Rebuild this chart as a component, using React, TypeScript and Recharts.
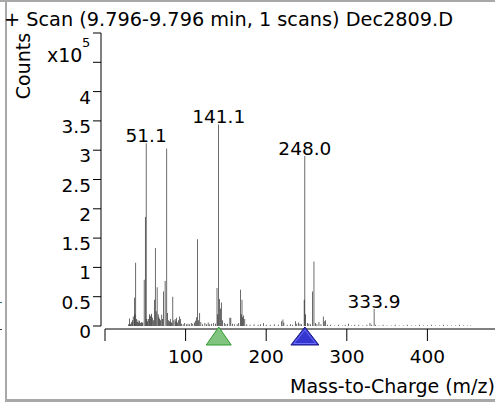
import { Bar, ComposedChart, LabelList, ReferenceDot, XAxis, YAxis } from "recharts";

// m/z of each line in the scan
const mz = [
  29, 30.2, 31, 32, 33, 34, 35, 36.4, 37.2, 38.2, 39, 40, 41, 42, 43, 44, 45, 46, 47, 48.6,
  50, 51.1, 52, 53, 54, 55, 56, 57, 58, 59, 60, 61.2, 62.4, 63.5, 64.7, 66, 67, 68, 69, 70.5,
  71.5, 72.6, 74.6, 76.7, 77.8, 79, 80, 81, 82, 83, 84.2, 85.5, 87, 88, 89, 90, 91, 92.5, 93.5, 95,
  97, 99, 101, 103, 105, 107, 109, 111, 112.5, 113.5, 114.8, 116, 117.6, 119, 121, 124, 126, 128, 130, 132,
  135, 137, 139, 140, 141.1, 142.3, 143.3, 144.3, 146, 148, 150, 152, 155, 156.2, 158, 161, 164, 166, 167.9, 169,
  170, 171, 172, 173.5, 176, 180, 185, 190, 193, 196.9, 200, 205, 210, 215, 219, 220.8, 222, 226, 230, 233,
  236.3, 238, 240.4, 242, 244, 247.1, 248, 249, 251, 253, 255, 257.3, 259.3, 261, 263, 265.5, 268, 270.8, 272, 273.8,
  276, 280, 285, 290, 295, 298, 302, 306, 310, 315, 320, 325, 328.8, 331, 333.9, 336, 340, 345, 350, 355,
  360, 365, 370, 375, 380, 385, 390, 395, 400, 405, 410, 415, 420, 425, 430, 435, 440, 445, 450, 454,
];

// counts, x10^5
const counts = [
  0.03, 0.13, 0.02, 0.04, 0.07, 0.1, 0.16, 0.48, 0.2, 1.08, 0.12, 0.07, 0.1, 0.06, 0.09, 0.05, 0.07, 0.05, 0.06, 0.79,
  1.86, 3.12, 0.12, 0.08, 0.12, 0.2, 0.16, 0.18, 0.21, 0.14, 0.1, 0.45, 1.33, 0.25, 0.66, 0.2, 0.15, 0.12, 0.1, 0.19,
  0.12, 0.59, 0.77, 3.03, 0.22, 0.1, 0.08, 0.12, 0.07, 0.05, 0.5, 0.1, 0.12, 0.08, 0.14, 0.06, 0.1, 0.16, 0.12, 0.04,
  0.03, 0.05, 0.03, 0.04, 0.03, 0.05, 0.04, 0.06, 0.09, 0.15, 1.48, 0.1, 0.22, 0.07, 0.03, 0.05, 0.03, 0.06, 0.03, 0.04,
  0.05, 0.04, 0.65, 0.2, 3.44, 0.46, 0.3, 0.4, 0.1, 0.05, 0.03, 0.04, 0.14, 0.14, 0.04, 0.03, 0.03, 0.05, 0.62, 0.2,
  0.45, 0.15, 0.18, 0.12, 0.03, 0.02, 0.03, 0.02, 0.03, 0.05, 0.02, 0.02, 0.03, 0.02, 0.08, 0.11, 0.06, 0.02, 0.03, 0.02,
  0.08, 0.04, 0.06, 0.04, 0.03, 0.45, 2.9, 0.2, 0.05, 0.04, 0.03, 0.59, 1.1, 0.05, 0.03, 0.07, 0.03, 0.16, 0.08, 0.1,
  0.02, 0.02, 0.01, 0.02, 0.01, 0.02, 0.04, 0.01, 0.02, 0.02, 0.01, 0.02, 0.05, 0.02, 0.29, 0.02, 0.01, 0.02, 0.01, 0.01,
  0.02, 0.01, 0.01, 0.02, 0.01, 0.01, 0.02, 0.01, 0.01, 0.02, 0.01, 0.01, 0.02, 0.01, 0.01, 0.01, 0.02, 0.01, 0.01, 0.01,
];

const labelMz = [51.1, 141.1, 248, 333.9];
const labelText = ["51.1", "141.1", "248.0", "333.9"];

const markerMz = [141.1, 248];

const yTicks = [0, 0.5, 1, 1.5, 2, 2.5, 3, 3.5, 4, 4.5, 5];
const yTickLabels = ["0", "0.5", "1", "1.5", "2", "2.5", "3", "3.5", "4", "", ""];
const xTicks = [0, 100, 200, 300, 400, 500];
const xTickLabels = ["", "100", "200", "300", "400", ""];

const data = mz.map((m, i) => {
  const k = labelMz.indexOf(m);
  return { mz: m, counts: counts[i], label: k >= 0 ? labelText[k] : undefined };
});

const FONT = '"DejaVu Sans", Verdana, sans-serif';
const NUM = 18.5;

function YTick(props: any) {
  const { x, y, payload } = props;
  const label = yTickLabels[yTicks.indexOf(payload.value)];
  return (
    <text x={x - 4} y={y + 12} textAnchor="end" fontSize={NUM} fontFamily={FONT} fill="#000">
      {label}
    </text>
  );
}

function XTick(props: any) {
  const { x, y, payload } = props;
  const label = xTickLabels[xTicks.indexOf(payload.value)];
  return (
    <text x={x} y={y + 23} textAnchor="middle" fontSize={NUM} fontFamily={FONT} fill="#000">
      {label}
    </text>
  );
}

function YTitle(props: any) {
  const vb = props.viewBox;
  const cx = vb.x + 30;
  const cy = vb.y + 33;
  return (
    <g fontFamily={FONT} fill="#000">
      <text x={cx} y={cy} textAnchor="middle" fontSize={19} transform={`rotate(-90 ${cx} ${cy})`}>
        Counts
      </text>
      <text x={vb.x + 47} y={vb.y + 29} fontSize={19}>
        x10
      </text>
      <text x={vb.x + 82} y={vb.y + 14} fontSize={13}>
        5
      </text>
    </g>
  );
}

function XTitle(props: any) {
  const vb = props.viewBox;
  return (
    <text x={vb.x + 185} y={vb.y + 67} fontSize={19} fontFamily={FONT} fill="#000">
      Mass-to-Charge (m/z)
    </text>
  );
}

function PeakLabel(props: any) {
  const { x, y, width, value } = props;
  if (!value) return null;
  return (
    <text x={x + width / 2} y={y - 1} textAnchor="middle" fontSize={NUM} fontFamily={FONT} fill="#000">
      {value}
    </text>
  );
}

function GreenMarker(props: any) {
  const { cx, cy } = props;
  return (
    <polygon
      points={`${cx},${cy + 1} ${cx - 12.5},${cy + 19} ${cx + 12.5},${cy + 19}`}
      fill="#80c480"
      stroke="#2f9a2f"
      strokeWidth={1}
    />
  );
}

function BlueMarker(props: any) {
  const { cx, cy } = props;
  return (
    <g>
      <polygon
        points={`${cx},${cy + 1} ${cx - 14},${cy + 19} ${cx + 14},${cy + 19}`}
        fill="#3535cf"
        stroke="#1a1a80"
        strokeWidth={1}
      />
      <polygon
        points={`${cx},${cy + 4} ${cx - 11},${cy + 17.5} ${cx + 11},${cy + 17.5}`}
        fill="none"
        stroke="#7070ff"
        strokeWidth={1}
      />
    </g>
  );
}

export default function App() {
  return (
    <div
      style={{
        position: "absolute",
        left: 0,
        top: 0,
        width: 495,
        height: 402,
        overflow: "hidden",
        background: "#fff",
        fontFamily: FONT,
      }}
    >
      <div style={{ position: "absolute", left: 0, top: 0, width: 495, height: 2, background: "#a8a8a8" }} />
      <div style={{ position: "absolute", left: 5, top: 0, width: 2, height: 402, background: "#a8a8a8" }} />
      <div style={{ position: "absolute", left: 5, top: 399, width: 490, height: 3, background: "#a8a8a8" }} />
      <div style={{ position: "absolute", left: 0, top: 302, width: 2, height: 1, background: "#2a7a8a" }} />
      <div style={{ position: "absolute", left: 0, top: 329, width: 2, height: 1, background: "#333" }} />

      <svg width={495} height={40} style={{ position: "absolute", left: 0, top: 0 }}>
        <text x={4} y={26} fontSize={19.3} fontFamily={FONT} fill="#000">
          + Scan (9.796-9.796 min, 1 scans) Dec2809.D
        </text>
      </svg>

      <div style={{ position: "absolute", left: 0, top: 0 }}>
        <ComposedChart width={545} height={402} data={data} margin={{ top: 33, right: 37, bottom: 0, left: 0 }}>
          <XAxis
            type="number"
            dataKey="mz"
            domain={[0, 500]}
            ticks={xTicks}
            interval={0}
            height={76}
            tickSize={12}
            axisLine={{ stroke: "#000", transform: "translate(0 3)" }}
            tickLine={{ stroke: "#000", transform: "translate(0 3)" }}
            tick={<XTick />}
            label={{ content: XTitle }}
          />
          <YAxis
            type="number"
            domain={[0, 5]}
            ticks={yTicks}
            interval={0}
            width={105}
            tickSize={8}
            axisLine={{ stroke: "#000", transform: "translate(-4 0)" }}
            tickLine={{ stroke: "#000", transform: "translate(-4 0)" }}
            tick={<YTick />}
            label={{ content: YTitle }}
          />
          <Bar dataKey="counts" fill="#000" barSize={1.4} isAnimationActive={false}>
            <LabelList dataKey="label" content={PeakLabel} />
          </Bar>
          <ReferenceDot x={markerMz[0]} y={0} ifOverflow="visible" shape={GreenMarker} />
          <ReferenceDot x={markerMz[1]} y={0} ifOverflow="visible" shape={BlueMarker} />
        </ComposedChart>
      </div>
    </div>
  );
}
